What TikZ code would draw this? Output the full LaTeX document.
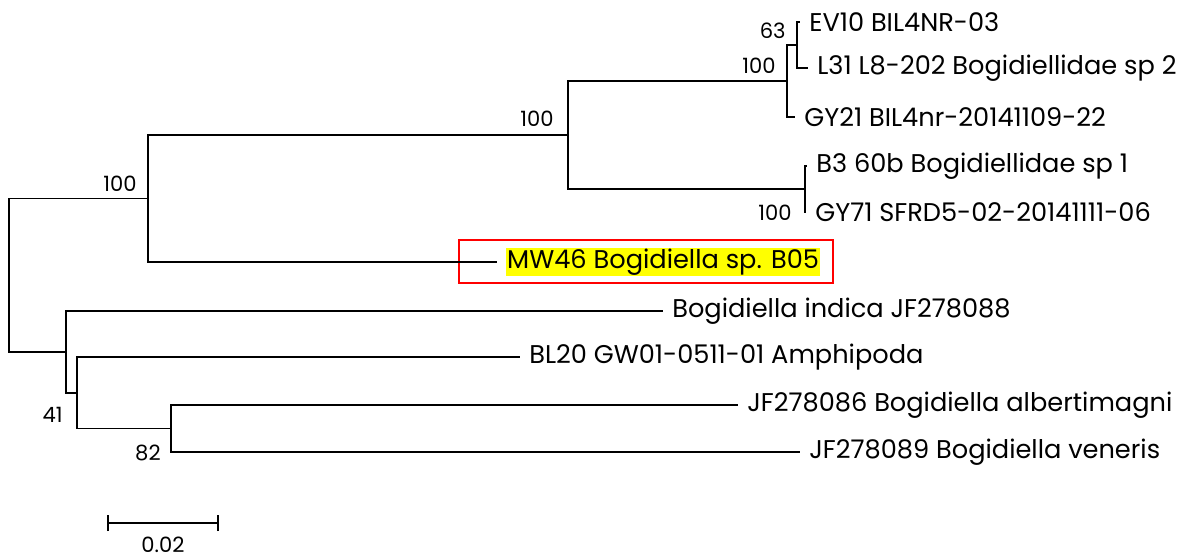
\documentclass[tikz,border=0pt]{standalone}
\usepackage{fontspec}
\setmainfont{Poppins}
\usepackage{xcolor}
\usetikzlibrary{positioning, calc}
\definecolor{marca}{HTML}{FF0000}
\definecolor{resalte}{HTML}{FFFF00}
\tikzset{
  every picture/.style={font=\fontsize{14.6}{16}\selectfont},
  rama/.style={line width=1.1pt, black},
  hoja/.style={anchor=west, inner xsep=0.18cm, inner ysep=1pt, text=black},
  boot/.style={anchor=east, inner sep=0pt, font=\fontsize{12}{14}\selectfont},
  recuadro/.style={draw=marca, line width=1.1pt},
}
\begin{document}
\begin{tikzpicture}[x=0.02cm, y=-0.02cm]
  \useasboundingbox (0,0) rectangle (1191,558);
  % nodos internos
  \coordinate (raiz) at (9,275.2);
  \coordinate (nA) at (148,198.5);
  \coordinate (nB) at (568,135);
  \coordinate (nC) at (787,81);
  \coordinate (nD) at (797,45);
  \coordinate (nE) at (805,189);
  \coordinate (nF) at (66,351.9);
  \coordinate (nG) at (77,392.75);
  \coordinate (nH) at (171,428.5);
  % hojas
  \foreach \nm/\x/\y/\t in {ev10/800/22/EV10 BIL4NR-03, l31/808/68/L31 L8-202 Bogidiellidae sp 2,
      gy21/795/117/GY21 BIL4nr-20141109-22, b3/807/166/B3 60b Bogidiellidae sp 1,
      gy71/806/212/GY71 SFRD5-02-20141111-06, indica/663/311/Bogidiella indica JF278088,
      bl20/520/357/BL20 GW01-0511-01 Amphipoda, jf86/738/405/JF278086 Bogidiella albertimagni,
      jf89/800/452/JF278089 Bogidiella veneris} {
    \node[hoja] (\nm) at (\x,\y) {\t};
  }
  \node[hoja] (mw46) at (497,262) {\setlength{\fboxsep}{0.5pt}\colorbox{resalte}{MW46 Bogidiella sp. B05}};
  \draw[recuadro] (459,240) rectangle (833,283);
  % ramas
  \draw[rama] (raiz) |- (nA);
  \draw[rama] (raiz) |- (nF);
  \draw[rama] (nA) |- (nB);
  \draw[rama] (nA) |- (mw46.west);
  \draw[rama] (nB) |- (nC);
  \draw[rama] (nB) |- (nE);
  \draw[rama] (nC) |- (nD);
  \draw[rama] (nC) |- (gy21.west);
  \draw[rama] (nD) |- (ev10.west);
  \draw[rama] (nD) |- (l31.west);
  \draw[rama] (nE) |- (b3.west);
  \draw[rama] (nE) |- (gy71.west);
  \draw[rama] (nF) |- (indica.west);
  \draw[rama] (nF) |- (nG);
  \draw[rama] (nG) |- (bl20.west);
  \draw[rama] (nG) |- (nH);
  \draw[rama] (nH) |- (jf86.west);
  \draw[rama] (nH) |- (jf89.west);
  % soporte bootstrap
  \node[boot] (bA) at (137,184) {100};
  \node[boot] (bB) at (554,119) {100};
  \node[boot] (bC) at (776,66) {100};
  \node[boot] (bD) at (786,31) {63};
  \node[boot] (bE) at (792,213) {100};
  \node[boot] (bG) at (63,415) {41};
  \node[boot] (bH) at (161,453) {82};
  % escala
  \coordinate (e1) at (108,523);
  \coordinate (e2) at (218,523);
  \draw[rama] (e1) -- (e2);
  \draw[rama] ([yshift=-0.16cm]e1) -- ([yshift=0.16cm]e1);
  \draw[rama] ([yshift=-0.16cm]e2) -- ([yshift=0.16cm]e2);
  \node[boot, anchor=center] (escala) at ($(e1)!0.5!(e2)+(0,22)$) {0.02};
\end{tikzpicture}
\end{document}
